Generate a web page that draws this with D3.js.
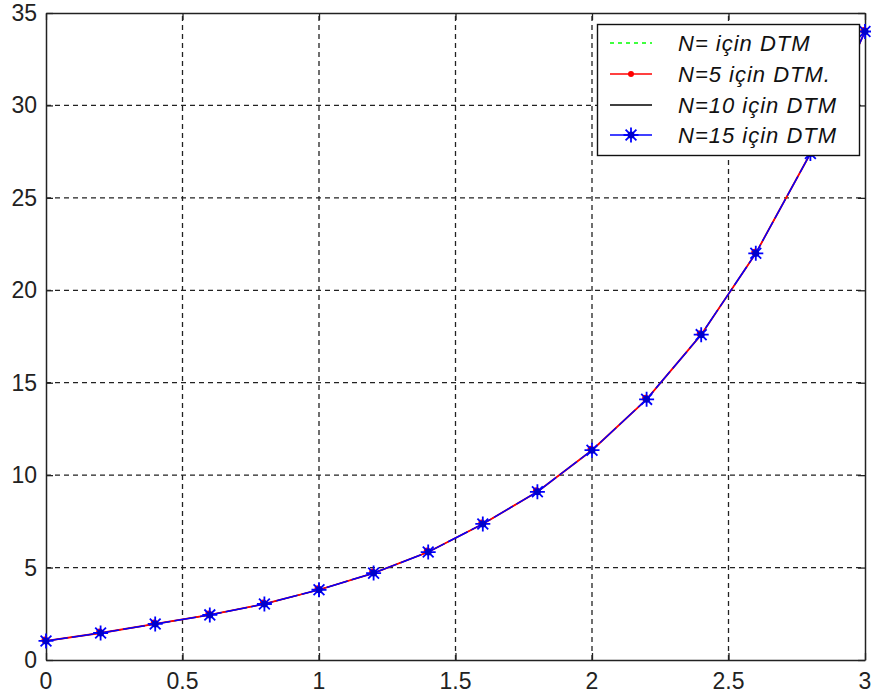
<!DOCTYPE html>
<html>
<head>
<meta charset="utf-8">
<script src="https://cdn.jsdelivr.net/npm/d3@7"></script>
<style>
  body { margin: 0; background: #fff; }
  .tick-label { font-family: "Liberation Sans", Arial, sans-serif; font-size: 23px; fill: #222; }
  .leg-text { font-family: "Liberation Sans", Arial, sans-serif; font-size: 22px; font-style: italic; letter-spacing: 1px; fill: #111; }
</style>
</head>
<body>
<div id="chart"></div>
<script>
// values
var x_values = [0, 0.2, 0.4, 0.6, 0.8, 1.0, 1.2, 1.4, 1.6, 1.8, 2.0, 2.2, 2.4, 2.6, 2.8, 3.0];
var y_values = [1.03, 1.46, 1.95, 2.44, 3.03, 3.8, 4.7, 5.84, 7.36, 9.1, 11.35, 14.1, 17.6, 22.0, 27.4, 34.0];
var x_ticks = [0, 0.5, 1, 1.5, 2, 2.5, 3];
var y_ticks = [0, 5, 10, 15, 20, 25, 30, 35];
var legend_labels = ["N= için DTM", "N=5 için DTM.", "N=10 için DTM", "N=15 için DTM"];

var width = 871, height = 699;
var m = { top: 13, right: 6, bottom: 39, left: 46 };

var data = x_values.map((d, i) => ({ x: d, y: y_values[i] }));

var x = d3.scaleLinear().domain([0, 3]).range([m.left, width - m.right]);
var y = d3.scaleLinear().domain([0, 35]).range([height - m.bottom, m.top]);

var svg = d3
  .select("#chart")
  .append("svg")
  .attr("width", width)
  .attr("height", height);

// dashed grid
svg
  .append("g")
  .selectAll("line")
  .data(x_ticks.slice(1, -1))
  .enter()
  .append("line")
  .attr("x1", (d) => x(d))
  .attr("x2", (d) => x(d))
  .attr("y1", y(0))
  .attr("y2", y(35))
  .attr("stroke", "#222")
  .attr("stroke-width", 1.3)
  .attr("stroke-dasharray", "5,4");

svg
  .append("g")
  .selectAll("line")
  .data(y_ticks.slice(1, -1))
  .enter()
  .append("line")
  .attr("x1", x(0))
  .attr("x2", x(3))
  .attr("y1", (d) => y(d))
  .attr("y2", (d) => y(d))
  .attr("stroke", "#222")
  .attr("stroke-width", 1.3)
  .attr("stroke-dasharray", "5,4");

// axes box with inward ticks
var axes = [
  { ax: d3.axisBottom(x), t: "translate(0," + y(0) + ")" },
  { ax: d3.axisTop(x), t: "translate(0," + y(35) + ")" },
  { ax: d3.axisLeft(y), t: "translate(" + x(0) + ",0)" },
  { ax: d3.axisRight(y), t: "translate(" + x(3) + ",0)" },
];
axes.forEach(function (a, i) {
  var sc = i < 2 ? x_ticks : y_ticks;
  var g = svg
    .append("g")
    .attr("transform", a.t)
    .call(a.ax.tickValues(sc).tickSizeInner(-7).tickSizeOuter(0).tickFormat(""));
  g.select(".domain").attr("stroke", "#222").attr("stroke-width", 1.5);
  g.selectAll(".tick line").attr("stroke", "#222").attr("stroke-width", 1.3);
});

// tick labels
svg
  .selectAll(".xl")
  .data(x_ticks)
  .enter()
  .append("text")
  .attr("class", "tick-label")
  .attr("x", (d) => x(d))
  .attr("y", y(0) + 29)
  .attr("text-anchor", "middle")
  .text((d) => d);

svg
  .selectAll(".yl")
  .data(y_ticks)
  .enter()
  .append("text")
  .attr("class", "tick-label")
  .attr("x", x(0) - 9)
  .attr("y", (d) => y(d) + 8)
  .attr("text-anchor", "end")
  .text((d) => d);

var line = d3
  .line()
  .x((d) => x(d.x))
  .y((d) => y(d.y));

function star(g, cx, cy, r) {
  var rd = r * 0.72;
  g.append("path")
    .attr("d",
      "M" + (cx - r) + "," + cy + "H" + (cx + r) +
      "M" + cx + "," + (cy - r) + "V" + (cy + r) +
      "M" + (cx - rd) + "," + (cy - rd) + "L" + (cx + rd) + "," + (cy + rd) +
      "M" + (cx - rd) + "," + (cy + rd) + "L" + (cx + rd) + "," + (cy - rd))
    .attr("stroke", "#0000ff")
    .attr("stroke-width", 1.8)
    .attr("fill", "none");
  g.append("circle").attr("cx", cx).attr("cy", cy).attr("r", 3.5).attr("fill", "#0000cc");
}

// N= (green dashed), N=10 (black), hidden under the others
svg.append("path").datum(data).attr("d", line).attr("fill", "none")
  .attr("stroke", "#00ff00").attr("stroke-dasharray", "4,4").attr("stroke-width", 1);
svg.append("path").datum(data).attr("d", line).attr("fill", "none")
  .attr("stroke", "#000").attr("stroke-width", 1);

// N=5 red with dots
svg.append("path").datum(data).attr("d", line).attr("fill", "none")
  .attr("stroke", "#ff0000").attr("stroke-width", 1.8);
svg.selectAll(".rdot").data(data).enter().append("circle")
  .attr("cx", (d) => x(d.x) - 1).attr("cy", (d) => y(d.y) - 1).attr("r", 3.5).attr("fill", "#ff0000");

// N=15 blue with stars
svg.append("path").datum(data).attr("d", line).attr("fill", "none")
  .attr("stroke", "#0000ff").attr("stroke-width", 1.5).attr("stroke-dasharray", "22,4");
var sg = svg.append("g");
data.forEach((d) => star(sg, x(d.x), y(d.y), 7.5));

// legend
var lg = svg.append("g");
lg.append("rect")
  .attr("x", 597.5).attr("y", 24.5).attr("width", 262).attr("height", 131)
  .attr("fill", "#fff").attr("stroke", "#111").attr("stroke-width", 1.4);

var rows = [43, 74, 105, 135];
legend_labels.forEach(function (t, i) {
  var ry = rows[i];
  var l = lg.append("line").attr("x1", 610).attr("x2", 652).attr("y1", ry).attr("y2", ry).attr("stroke-width", 1.4);
  if (i === 0) l.attr("stroke", "#00ff00").attr("stroke-dasharray", "4,4");
  if (i === 1) {
    l.attr("stroke", "#ff0000");
    lg.append("circle").attr("cx", 631).attr("cy", ry).attr("r", 3).attr("fill", "#ff0000");
  }
  if (i === 2) l.attr("stroke", "#000");
  if (i === 3) {
    l.attr("stroke", "#0000ff");
    star(lg, 631, ry, 7.5);
  }
  lg.append("text").attr("class", "leg-text").attr("x", 678).attr("y", ry + 8).text(t);
});
</script>
</body>
</html>
